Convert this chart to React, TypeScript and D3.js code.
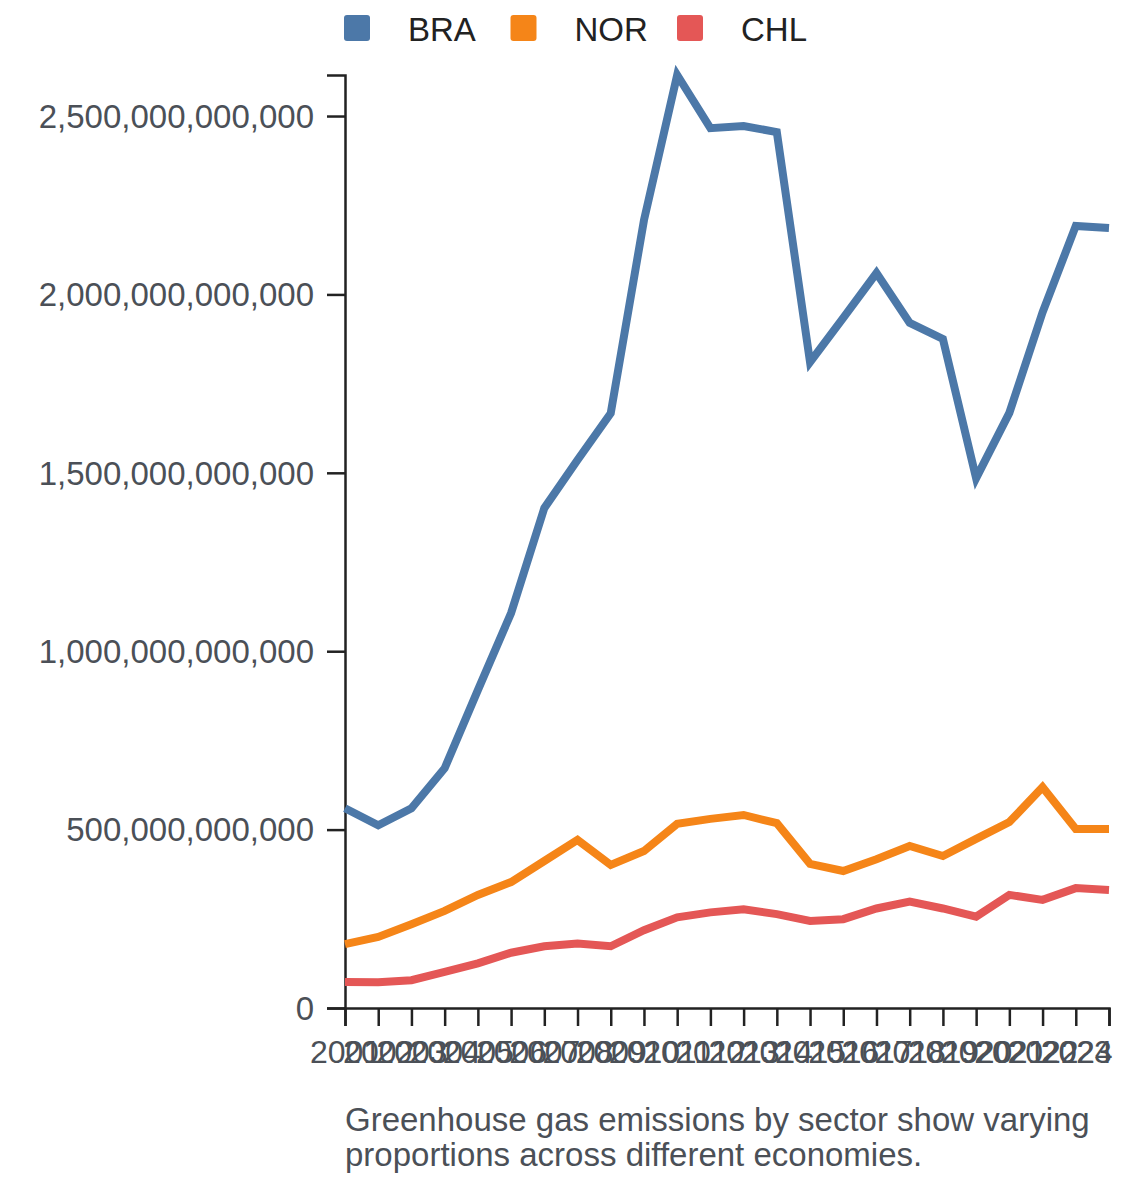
import { useRef, useEffect } from 'react';
import * as d3 from 'd3';

const years = [
  2001, 2002, 2003, 2004, 2005, 2006, 2007, 2008, 2009, 2010, 2011, 2012,
  2013, 2014, 2015, 2016, 2017, 2018, 2019, 2020, 2021, 2022, 2023, 2024,
];

// values in billions
const bra = [
  560, 512, 560, 672, 891, 1107, 1401, 1536, 1667, 2208, 2615, 2466,
  2472, 2455, 1810, 1934, 2060, 1920, 1875, 1485, 1668, 1950, 2192, 2186,
];
const nor = [
  179, 199, 235, 272, 317, 353, 412, 471, 401, 440, 516, 530,
  541, 518, 404, 384, 417, 454, 426, 474, 521, 619, 502, 502,
];
const chl = [
  73, 72, 78, 101, 125, 155, 173, 181, 173, 218, 254, 268,
  277, 263, 244, 249, 279, 298, 279, 256, 317, 303, 336, 331,
];

const seriesNames = ['BRA', 'NOR', 'CHL'];
const seriesColors = ['#4c78a8', '#f58518', '#e45756'];
const seriesValues = [bra, nor, chl];
const yTicks = [0, 500, 1000, 1500, 2000, 2500];
const captionLines = [
  'Greenhouse gas emissions by sector show varying',
  'proportions across different economies.',
];

const W = 1140;
const H = 1182;
const M = { top: 75, left: 345, right: 31, bottom: 174 };
const FONT = '"Liberation Sans", Arial, Helvetica, sans-serif';

export default function App() {
  const svgRef = useRef<SVGSVGElement>(null);

  useEffect(() => {
    const svg = d3.select(svgRef.current);
    svg.selectAll('*').remove();

    const x = d3
      .scalePoint<number>()
      .domain(years)
      .range([M.left, W - M.right]);

    const maxVal = d3.max(seriesValues.flat())! * 1e9;
    const y = d3
      .scaleLinear()
      .domain([0, maxVal])
      .range([H - M.bottom, M.top]);

    const fmt = d3.format(',.0f');

    // Y axis
    const yAxis = svg
      .append('g')
      .attr('transform', `translate(${M.left},0)`)
      .call(
        d3
          .axisLeft(y)
          .tickValues(yTicks.map((t) => t * 1e9))
          .tickSize(18)
          .tickPadding(13)
          .tickFormat((d) => fmt(d as number))
      );
    yAxis.select('.domain').attr('stroke', '#222').attr('stroke-width', 2.5);
    yAxis.selectAll('.tick line').attr('stroke', '#222').attr('stroke-width', 2.5);
    yAxis
      .selectAll('.tick text')
      .attr('fill', '#4b5057')
      .attr('font-size', 33)
      .attr('font-family', FONT)
      .attr('dy', '0.34em');

    // X axis
    const xAxis = svg
      .append('g')
      .attr('transform', `translate(0,${H - M.bottom})`)
      .call(d3.axisBottom(x).tickSize(18).tickPadding(12).tickFormat((d) => String(d)));
    xAxis.select('.domain').attr('stroke', '#222').attr('stroke-width', 2.5);
    xAxis.selectAll('.tick line').attr('stroke', '#222').attr('stroke-width', 2.5);
    xAxis
      .selectAll<SVGTextElement, number>('.tick text')
      .attr('fill', '#4b5057')
      .attr('font-size', 32)
      .attr('font-family', FONT)
      .attr('dy', '0.78em')
      .attr('text-anchor', (d) => (d === years[years.length - 1] ? 'end' : 'middle'))
      .attr('dx', (d) => (d === years[years.length - 1] ? 3 : 0));

    // Lines
    const line = d3
      .line<number>()
      .x((_, i) => x(years[i])!)
      .y((v) => y(v * 1e9));

    seriesValues.forEach((vals, i) => {
      svg
        .append('path')
        .attr('d', line(vals))
        .attr('fill', 'none')
        .attr('stroke', seriesColors[i])
        .attr('stroke-width', 8)
        .attr('stroke-linejoin', 'miter');
    });

    // Legend
    const legend = svg.append('g').attr('transform', 'translate(344,15)');
    seriesNames.forEach((name, i) => {
      const g = legend.append('g').attr('transform', `translate(${i * 166.5},0)`);
      g.append('rect')
        .attr('width', 26)
        .attr('height', 26)
        .attr('rx', 3)
        .attr('fill', seriesColors[i]);
      g.append('text')
        .attr('x', 64)
        .attr('y', 26)
        .attr('fill', '#222')
        .attr('font-size', 33)
        .attr('font-family', FONT)
        .text(name);
    });

    // Caption
    captionLines.forEach((t, i) => {
      svg
        .append('text')
        .attr('x', M.left)
        .attr('y', 1131 + i * 35)
        .attr('fill', '#4b5057')
        .attr('font-size', 33)
        .attr('font-family', FONT)
        .text(t);
    });
  }, []);

  return (
    <svg
      ref={svgRef}
      width={W}
      height={H}
      style={{ position: 'absolute', left: 0, top: 0, background: '#fff' }}
    />
  );
}
